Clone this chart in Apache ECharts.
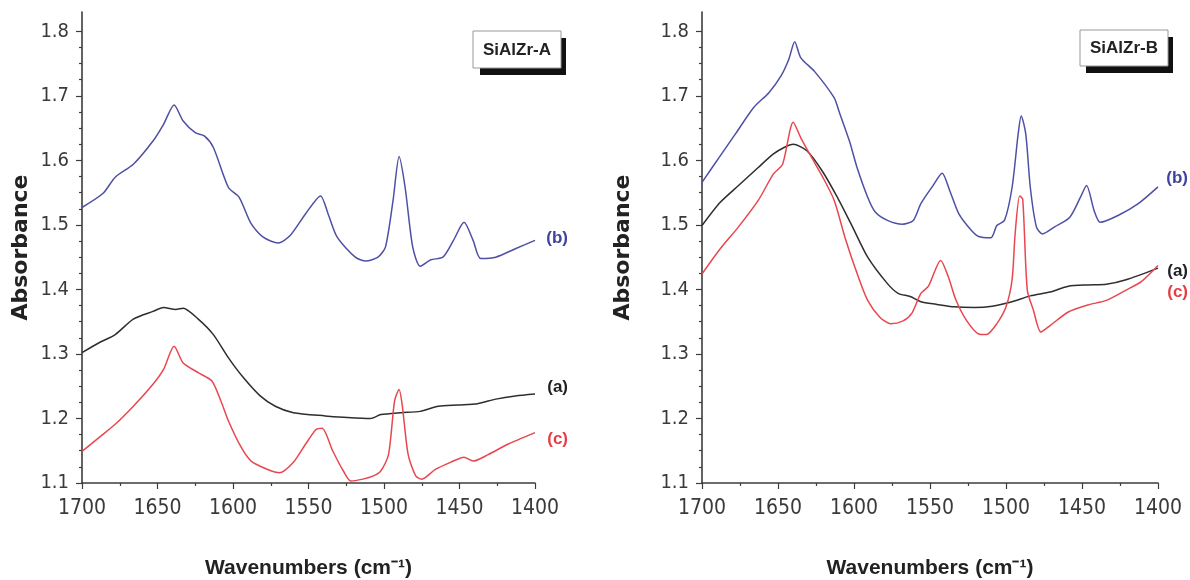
<!DOCTYPE html>
<html>
<head>
<meta charset="utf-8">
<script src="https://cdn.jsdelivr.net/npm/echarts@6/dist/echarts.min.js"></script>
<style>
  html, body { margin: 0; padding: 0; background: #fff; }
  #chart { width: 1190px; height: 580px; }
</style>
</head>
<body>
<div id="chart"></div>
<script>
// tick values
const yTicks = [1.1, 1.2, 1.3, 1.4, 1.5, 1.6, 1.7, 1.8];
const yMinorTicks = [1.125, 1.15, 1.175, 1.225, 1.25, 1.275, 1.325, 1.35, 1.375,
  1.425, 1.45, 1.475, 1.525, 1.55, 1.575, 1.625, 1.65, 1.675, 1.725, 1.75, 1.775];

// SiAlZr-A, curve (b)
const wnAb = [1700, 1686, 1678, 1666, 1653, 1646, 1639, 1633, 1625, 1619, 1613, 1603, 1596, 1588, 1580, 1570,
  1562, 1552, 1542, 1537, 1531, 1519, 1512, 1504, 1499, 1494, 1490, 1486, 1481, 1476, 1469, 1461, 1454, 1447,
  1441, 1436, 1426, 1413, 1400];
const absAb = [1.527, 1.549, 1.574, 1.594, 1.630, 1.656, 1.686, 1.661, 1.643, 1.638, 1.620, 1.558, 1.543, 1.502,
  1.481, 1.472, 1.484, 1.517, 1.545, 1.517, 1.481, 1.450, 1.444, 1.450, 1.466, 1.538, 1.606, 1.558, 1.466, 1.436,
  1.446, 1.450, 1.476, 1.504, 1.476, 1.448, 1.450, 1.463, 1.476];

// SiAlZr-A, curve (a)
const wnAa = [1700, 1689, 1678, 1666, 1653, 1646, 1638, 1633, 1623, 1613, 1603, 1593, 1582, 1572, 1560, 1539,
  1527, 1509, 1502, 1489, 1476, 1464, 1451, 1438, 1426, 1413, 1400];
const absAa = [1.302, 1.317, 1.330, 1.354, 1.366, 1.372, 1.369, 1.371, 1.354, 1.330, 1.294, 1.263, 1.235, 1.219,
  1.209, 1.204, 1.202, 1.200, 1.206, 1.209, 1.211, 1.219, 1.221, 1.223, 1.230, 1.235, 1.238];

// SiAlZr-A, curve (c)
const wnAc = [1700, 1689, 1678, 1666, 1653, 1646, 1639, 1633, 1623, 1614, 1608, 1603, 1595, 1588, 1577, 1569,
  1560, 1552, 1545, 1541, 1534, 1527, 1522, 1514, 1507, 1502, 1497, 1493, 1490, 1488, 1484, 1479, 1475, 1466,
  1456, 1447, 1441, 1431, 1418, 1400];
const absAc = [1.149, 1.170, 1.191, 1.219, 1.253, 1.276, 1.312, 1.286, 1.271, 1.258, 1.227, 1.196, 1.157, 1.134,
  1.121, 1.116, 1.132, 1.160, 1.183, 1.185, 1.150, 1.119, 1.103, 1.106, 1.111, 1.119, 1.144, 1.227, 1.245, 1.222,
  1.144, 1.111, 1.106, 1.121, 1.132, 1.140, 1.134, 1.144, 1.160, 1.178];

// SiAlZr-B, curve (b)
const wnBb = [1700, 1688, 1678, 1666, 1656, 1648, 1643, 1639, 1635, 1626, 1613, 1610, 1603, 1598, 1591, 1586,
  1578, 1568, 1561, 1556, 1548, 1542, 1537, 1531, 1523, 1518, 1510, 1506, 1501, 1496, 1492, 1490, 1487, 1484,
  1480, 1476, 1468, 1458, 1451, 1447, 1442, 1438, 1426, 1413, 1400];
const absBb = [1.566, 1.607, 1.641, 1.682, 1.705, 1.731, 1.756, 1.784, 1.759, 1.738, 1.697, 1.677, 1.630, 1.589,
  1.543, 1.520, 1.507, 1.501, 1.507, 1.533, 1.561, 1.580, 1.553, 1.517, 1.492, 1.482, 1.480, 1.499, 1.507, 1.558,
  1.641, 1.669, 1.641, 1.558, 1.497, 1.486, 1.497, 1.512, 1.543, 1.561, 1.522, 1.504, 1.515, 1.533, 1.559];

// SiAlZr-B, curve (a)
const wnBa = [1700, 1688, 1676, 1663, 1653, 1646, 1640, 1631, 1621, 1611, 1601, 1591, 1578, 1571, 1563, 1556,
  1546, 1534, 1521, 1509, 1496, 1484, 1471, 1459, 1446, 1434, 1421, 1400];
const absBa = [1.499, 1.535, 1.561, 1.589, 1.610, 1.620, 1.625, 1.615, 1.584, 1.543, 1.497, 1.450, 1.409, 1.394,
  1.389, 1.381, 1.377, 1.373, 1.372, 1.374, 1.381, 1.390, 1.396, 1.405, 1.407, 1.408, 1.415, 1.433];

// SiAlZr-B, curve (c)
const wnBc = [1700, 1688, 1676, 1663, 1653, 1647, 1640, 1635, 1628, 1621, 1613, 1606, 1598, 1591, 1583, 1576,
  1568, 1562, 1556, 1551, 1543, 1538, 1533, 1526, 1518, 1513, 1506, 1500, 1496, 1494, 1491, 1489, 1486, 1482,
  1477, 1471, 1459, 1446, 1434, 1421, 1411, 1400];
const absBc = [1.424, 1.463, 1.497, 1.538, 1.579, 1.594, 1.659, 1.635, 1.605, 1.576, 1.538, 1.481, 1.425, 1.383,
  1.357, 1.347, 1.351, 1.363, 1.394, 1.405, 1.445, 1.420, 1.384, 1.352, 1.331, 1.330, 1.347, 1.373, 1.415, 1.486,
  1.545, 1.540, 1.399, 1.368, 1.334, 1.344, 1.365, 1.376, 1.383, 1.399, 1.412, 1.437];

const panelNames = ['SiAlZr-A', 'SiAlZr-B'];

const narrow = '"Liberation Sans Narrow", "DejaVu Sans Condensed", "Liberation Sans", sans-serif';
const plain = '"Liberation Sans", Arial, sans-serif';
const axisColor = '#3c3c3c';
const blue = '#4d50a4';
const black = '#2e2e2e';
const red = '#e8474f';

const zip = (xs, ys) => xs.map((x, i) => [x, ys[i]]);

const myChart = echarts.init(document.getElementById('chart'));

function makeX(grid) {
  return {
    gridIndex: grid,
    type: 'value',
    inverse: true,
    min: 1400,
    max: 1700,
    interval: 50,
    axisLine: { lineStyle: { color: axisColor, width: 1.6 } },
    axisTick: { length: 6, lineStyle: { color: axisColor, width: 1.2 } },
    minorTick: { show: true, splitNumber: 2, length: 3, lineStyle: { color: axisColor, width: 1.2 } },
    splitLine: { show: false },
    minorSplitLine: { show: false },
    axisLabel: { formatter: v => String(v), fontSize: 21, fontFamily: narrow, color: '#3a3a3a', margin: 15 },
    name: 'Wavenumbers (cm\u207B\u00B9)',
    nameLocation: 'middle',
    nameGap: 75,
    nameTextStyle: { fontSize: 21, fontWeight: 'bold', fontFamily: plain, color: '#222' }
  };
}

function makeY(grid, gap) {
  return {
    gridIndex: grid,
    type: 'value',
    position: 'left',
    min: 1.1,
    max: 1.83,
    axisLine: { show: true, lineStyle: { color: axisColor, width: 1.6 } },
    axisTick: { show: true, length: 6, customValues: yTicks, lineStyle: { color: axisColor, width: 1.2 } },
    axisLabel: {
      customValues: yTicks,
      formatter: v => v.toFixed(1),
      fontSize: 20, fontFamily: narrow, color: '#3a3a3a', margin: 13
    },
    splitLine: { show: false },
    name: 'Absorbance',
    nameLocation: 'middle',
    nameGap: gap,
    nameTextStyle: { fontSize: 22, fontWeight: 'bold', fontFamily: '"DejaVu Sans", sans-serif', color: '#222' }
  };
}

function makeMinorY(grid) {
  return {
    gridIndex: grid,
    type: 'value',
    position: 'left',
    min: 1.1,
    max: 1.83,
    axisLine: { show: false },
    axisTick: { show: true, length: 3, customValues: yMinorTicks, lineStyle: { color: axisColor, width: 1.2 } },
    axisLabel: { show: false },
    splitLine: { show: false }
  };
}

// inverse x axis puts the end label on the left of the line end, so push it across with offset
function curve(grid, xs, ys, color, tag, labelColor, offset) {
  return {
    type: 'line',
    xAxisIndex: grid,
    yAxisIndex: grid * 2,
    data: zip(xs, ys),
    showSymbol: false,
    smooth: 0.25,
    lineStyle: { color: color, width: 1.5 },
    endLabel: {
      show: true,
      formatter: tag,
      color: labelColor,
      fontSize: 17,
      fontWeight: 'bold',
      fontFamily: plain,
      distance: 9,
      offset: offset
    }
  };
}

function labelBox(box, shadow, cx, cy, text) {
  return [
    { type: 'rect', shape: shadow, style: { fill: '#111' } },
    { type: 'rect', shape: box, style: { fill: '#fff', stroke: '#999', lineWidth: 1 } },
    {
      type: 'text', x: cx, y: cy,
      style: {
        text: text, fill: '#222', fontSize: 17, fontWeight: 'bold', fontFamily: plain,
        align: 'center', verticalAlign: 'middle'
      }
    }
  ];
}

const option = {
  animation: false,
  backgroundColor: '#fff',
  grid: [
    { left: 82, right: 655, top: 12, bottom: 97, outerBoundsMode: 'none' },
    { left: 702, right: 32, top: 12, bottom: 97, outerBoundsMode: 'none' }
  ],
  xAxis: [makeX(0), makeX(1)],
  yAxis: [makeY(0, 50), makeMinorY(0), makeY(1, 68), makeMinorY(1)],
  series: [
    curve(0, wnAb, absAb, blue, '(b)', '#3f42a0', [42, -2]),
    curve(0, wnAa, absAa, black, '(a)', '#222', [42, -7]),
    curve(0, wnAc, absAc, red, '(c)', '#e63c44', [42, 7]),
    curve(1, wnBb, absBb, blue, '(b)', '#3f42a0', [39, -9]),
    curve(1, wnBa, absBa, black, '(a)', '#222', [39, 3]),
    curve(1, wnBc, absBc, red, '(c)', '#e63c44', [39, 27])
  ],
  graphic: [].concat(
    labelBox({ x: 473, y: 31, width: 88, height: 37 }, { x: 480, y: 38, width: 86, height: 37 }, 517, 50, panelNames[0]),
    labelBox({ x: 1080, y: 30, width: 88, height: 36 }, { x: 1086, y: 37, width: 87, height: 36 }, 1124, 48, panelNames[1])
  )
};

option && myChart.setOption(option);
</script>
</body>
</html>
